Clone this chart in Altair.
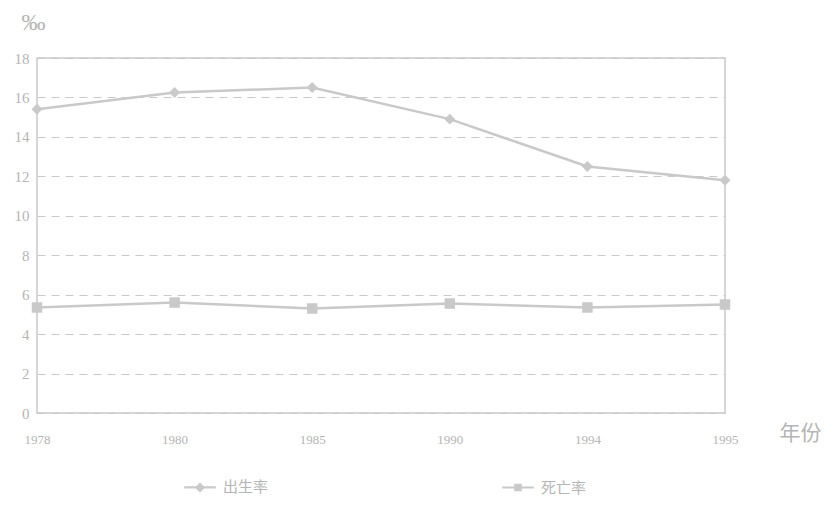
import altair as alt
import pandas as pd

years = ["1978", "1980", "1985", "1990", "1994", "1995"]
birth = [15.4, 16.25, 16.5, 14.9, 12.5, 11.8]
death = [5.35, 5.6, 5.3, 5.55, 5.35, 5.5]
series_names = ["出生率", "死亡率"]

rows = []
for y, b, d in zip(years, birth, death):
    rows.append({"year": y, "value": b, "series": series_names[0]})
    rows.append({"year": y, "value": d, "series": series_names[1]})
df = pd.DataFrame(rows)

GRAY = "#c9c9c9"
TXT = "#b5b5b5"

x_enc = alt.X("year:O", sort=years, scale=alt.Scale(padding=0),
              axis=alt.Axis(title="年份", labelAngle=0, labelFont="Liberation Serif",
                            labelFontSize=13, labelColor=TXT, labelPadding=20,
                            ticks=False, domain=False, grid=False,
                            titleFont="Noto Sans CJK SC", titleFontSize=21,
                            titleFontWeight="normal", titleColor=TXT,
                            titleX=763, titleY=20, titleAlign="center",
                            titleBaseline="middle"))
y_enc = alt.Y("value:Q", scale=alt.Scale(domain=[0, 18]),
              axis=alt.Axis(values=list(range(0, 19, 2)), title="‰", titleAngle=0,
                            titleX=-4, titleY=-36, titleFont="Liberation Serif",
                            titleFontSize=24, titleFontWeight="normal", titleColor=TXT,
                            titleAlign="center", titleBaseline="middle",
                            labelFont="Liberation Serif", labelFontSize=15,
                            labelColor=TXT, labelPadding=8, ticks=False,
                            domain=False, grid=True, gridColor=GRAY,
                            gridDash=[8, 6], gridWidth=1.2))

base = alt.Chart(df)

lines = base.mark_line(color=GRAY, strokeWidth=2.5).encode(
    x=x_enc, y=y_enc, detail="series:N")

pts_birth = base.transform_filter(alt.datum.series == series_names[0]).mark_point(
    filled=True, color=GRAY, opacity=1, shape="diamond", size=120).encode(x=x_enc, y=y_enc)
pts_death = base.transform_filter(alt.datum.series == series_names[1]).mark_point(
    filled=True, color=GRAY, opacity=1, shape="square", size=110).encode(x=x_enc, y=y_enc)

diamond_path = "M-1,-0.07H1V0.07H-1ZM-0.32,0L0,-0.32L0.32,0L0,0.32Z"
square_path = "M-1,-0.07H1V0.07H-1ZM-0.24,-0.24H0.24V0.24H-0.24Z"

legend_layer = base.mark_point(filled=True, opacity=0, color=GRAY, size=1000).encode(
    x=x_enc, y=y_enc,
    shape=alt.Shape("series:N", sort=series_names,
                    scale=alt.Scale(domain=series_names, range=[diamond_path, square_path]),
                    legend=alt.Legend(title=None, orient="none", legendX=146, legendY=412,
                                      direction="horizontal", columnPadding=230,
                                      symbolSize=1000,
                                      symbolFillColor=GRAY,
                                      symbolOpacity=1, labelFont="Noto Sans CJK SC",
                                      labelFontSize=15, labelColor=TXT, labelOffset=6)))

chart = alt.layer(lines, pts_birth, pts_death, legend_layer).properties(
    width=688, height=355,
    autosize=alt.AutoSizeParams(type="none"),
    padding={"left": 29, "top": 50, "right": 100, "bottom": 90},
    background="white",
).configure_view(stroke=GRAY, strokeWidth=1.5)

chart.save("out.html", embed_options={"renderer": "svg", "actions": False})
